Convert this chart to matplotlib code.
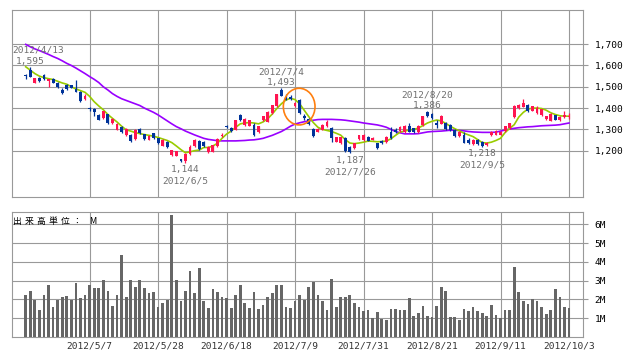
import matplotlib
matplotlib.use("Agg")
import matplotlib.pyplot as plt
from matplotlib.patches import Ellipse
import numpy as np

# ---------------- data ----------------
open_ = [1555, 1579, 1519, 1543, 1554, 1529, 1535, 1519, 1485, 1507,
         1508, 1490, 1475, 1443, 1400, 1398, 1368, 1354, 1372, 1330,
         1298, 1310, 1272, 1274, 1255, 1302, 1278, 1252, 1281, 1258,
         1224, 1241, 1178, 1176, 1160, 1150, 1185, 1220, 1247, 1242,
         1194, 1196, 1220, 1268, 1315, 1306, 1298, 1366, 1322, 1318,
         1320, 1286, 1342, 1337, 1376, 1408, 1485, 1452, 1452, 1408,
         1437, 1362, 1350, 1303, 1290, 1298, 1315, 1305, 1243, 1236,
         1258, 1217, 1212, 1254, 1250, 1264, 1251, 1234, 1245, 1240,
         1288, 1295, 1293, 1290, 1318, 1305, 1288, 1322, 1382, 1370,
         1330, 1327, 1332, 1322, 1298, 1268, 1275, 1250, 1233, 1250,
         1240, 1227, 1272, 1275, 1275, 1292, 1305, 1358, 1400, 1406,
         1415, 1388, 1375, 1368, 1347, 1341, 1366, 1343, 1360, 1357]
high = [1562, 1595, 1542, 1545, 1558, 1538, 1540, 1524, 1492, 1512,
        1510, 1530, 1478, 1468, 1404, 1402, 1370, 1386, 1374, 1352,
        1328, 1315, 1305, 1278, 1300, 1305, 1280, 1273, 1285, 1260,
        1255, 1244, 1205, 1200, 1163, 1190, 1227, 1256, 1250, 1245,
        1222, 1229, 1260, 1281, 1322, 1312, 1345, 1370, 1352, 1346,
        1330, 1318, 1365, 1386, 1416, 1468, 1493, 1465, 1460, 1430,
        1442, 1372, 1355, 1306, 1308, 1325, 1342, 1312, 1265, 1266,
        1262, 1220, 1238, 1275, 1280, 1268, 1262, 1238, 1248, 1268,
        1310, 1305, 1316, 1322, 1332, 1308, 1322, 1365, 1386, 1376,
        1342, 1368, 1336, 1326, 1302, 1292, 1288, 1258, 1256, 1253,
        1244, 1240, 1292, 1298, 1293, 1318, 1332, 1414, 1420, 1443,
        1420, 1412, 1408, 1398, 1365, 1378, 1369, 1362, 1384, 1375]
low = [1538, 1544, 1516, 1524, 1534, 1497, 1517, 1494, 1464, 1485,
       1492, 1474, 1428, 1438, 1388, 1365, 1342, 1350, 1326, 1325,
       1295, 1282, 1268, 1240, 1252, 1280, 1252, 1248, 1255, 1232,
       1220, 1212, 1176, 1173, 1146, 1144, 1182, 1216, 1205, 1217,
       1190, 1193, 1217, 1263, 1305, 1288, 1295, 1340, 1318, 1315,
       1270, 1283, 1340, 1334, 1372, 1405, 1455, 1436, 1436, 1405,
       1373, 1345, 1322, 1266, 1286, 1295, 1312, 1240, 1240, 1233,
       1195, 1187, 1208, 1250, 1245, 1244, 1248, 1208, 1233, 1236,
       1255, 1283, 1290, 1285, 1287, 1284, 1285, 1318, 1360, 1350,
       1305, 1323, 1299, 1292, 1264, 1265, 1235, 1230, 1229, 1228,
       1218, 1224, 1268, 1272, 1272, 1290, 1300, 1355, 1395, 1403,
       1380, 1385, 1372, 1365, 1345, 1338, 1344, 1340, 1355, 1350]
close = [1549, 1547, 1540, 1526, 1536, 1535, 1519, 1497, 1472, 1490,
         1495, 1477, 1435, 1457, 1395, 1380, 1345, 1384, 1330, 1350,
         1325, 1286, 1302, 1244, 1296, 1282, 1255, 1270, 1258, 1236,
         1252, 1215, 1203, 1197, 1150, 1185, 1219, 1252, 1208, 1220,
         1218, 1226, 1257, 1274, 1310, 1292, 1342, 1342, 1348, 1343,
         1276, 1315, 1362, 1382, 1413, 1465, 1458, 1440, 1445, 1424,
         1377, 1355, 1327, 1269, 1304, 1320, 1336, 1260, 1262, 1263,
         1200, 1192, 1235, 1272, 1276, 1247, 1258, 1213, 1236, 1265,
         1258, 1290, 1310, 1318, 1290, 1287, 1318, 1362, 1362, 1353,
         1322, 1364, 1302, 1296, 1267, 1288, 1238, 1235, 1252, 1233,
         1222, 1238, 1289, 1293, 1290, 1315, 1328, 1412, 1415, 1425,
         1386, 1408, 1400, 1394, 1362, 1374, 1346, 1358, 1366, 1364]
ma_short = [1594, 1578, 1562, 1550, 1543, 1538, 1534, 1526, 1518, 1512,
            1500, 1490, 1482, 1474, 1455, 1430, 1410, 1392, 1370, 1352,
            1335, 1315, 1298, 1292, 1285, 1280, 1276, 1272, 1268, 1262,
            1255, 1248, 1238, 1222, 1205, 1190, 1195, 1200, 1203, 1215,
            1215, 1222, 1235, 1258, 1278, 1292, 1310, 1326, 1330, 1332,
            1330, 1326, 1335, 1350, 1372, 1398, 1420, 1438, 1446, 1440,
            1420, 1390, 1360, 1332, 1310, 1300, 1295, 1290, 1282, 1273,
            1252, 1236, 1233, 1236, 1240, 1245, 1244, 1242, 1243, 1245,
            1256, 1272, 1287, 1292, 1297, 1300, 1306, 1318, 1330, 1338,
            1344, 1340, 1328, 1315, 1303, 1293, 1282, 1274, 1266, 1252,
            1238, 1236, 1240, 1248, 1258, 1285, 1305, 1322, 1358, 1380,
            1395, 1400, 1400, 1398, 1390, 1378, 1370, 1364, 1362, 1362]
ma_long = [1699, 1688, 1678, 1670, 1661, 1652, 1642, 1633, 1622, 1610,
           1600, 1588, 1575, 1562, 1548, 1535, 1520, 1500, 1485, 1468,
           1455, 1444, 1436, 1428, 1420, 1412, 1400, 1390, 1380, 1368,
           1354, 1340, 1326, 1313, 1303, 1292, 1283, 1274, 1266, 1258,
           1253, 1250, 1247, 1246, 1246, 1246, 1246, 1247, 1248, 1250,
           1251, 1254, 1258, 1265, 1272, 1281, 1290, 1302, 1315, 1325,
           1331, 1336, 1340, 1343, 1346, 1347, 1347, 1347, 1346, 1345,
           1343, 1340, 1337, 1334, 1330, 1327, 1324, 1321, 1316, 1310,
           1300, 1290, 1284, 1279, 1279, 1279, 1280, 1284, 1288, 1290,
           1291, 1292, 1294, 1296, 1296, 1295, 1293, 1290, 1288, 1287,
           1286, 1286, 1286, 1287, 1292, 1297, 1302, 1305, 1308, 1310,
           1312, 1313, 1315, 1317, 1318, 1319, 1320, 1322, 1326, 1330]
volume_m = [2.26, 2.47, 1.98, 1.44, 2.21, 2.74, 1.58, 1.98, 2.11, 2.16,
            1.96, 2.89, 2.05, 2.21, 2.79, 2.63, 2.63, 3.05, 2.47, 1.63,
            2.26, 4.37, 2.11, 3.05, 2.68, 3.05, 2.63, 2.32, 2.37, 1.58,
            1.79, 1.98, 6.47, 3.05, 1.91, 2.47, 3.53, 2.32, 3.68, 1.91,
            1.53, 2.58, 2.42, 2.11, 2.05, 1.53, 2.26, 2.74, 1.79, 1.53,
            2.42, 1.47, 1.68, 2.11, 2.32, 2.74, 2.74, 1.58, 1.53, 1.89,
            2.21, 1.95, 2.68, 2.95, 2.21, 1.89, 1.42, 3.10, 1.58, 2.11,
            2.11, 2.21, 1.79, 1.58, 1.37, 1.42, 1.00, 1.32, 0.95, 0.89,
            1.47, 1.47, 1.42, 1.42, 2.05, 1.10, 1.26, 1.63, 1.10, 1.05,
            1.63, 2.68, 2.47, 1.05, 1.05, 0.89, 1.47, 1.37, 1.58, 1.37,
            1.26, 1.10, 1.68, 1.16, 1.00, 1.42, 1.42, 3.74, 2.42, 1.89,
            1.74, 2.00, 1.89, 1.58, 1.21, 1.42, 2.53, 2.11, 1.58, 1.53]
date_ticks = ["2012/5/7", "2012/5/28", "2012/6/18", "2012/7/9",
              "2012/7/31", "2012/8/21", "2012/9/11", "2012/10/3"]
date_tick_index = [14, 29, 44, 59, 74, 89, 104, 119]
price_ticks = [1200, 1300, 1400, 1500, 1600, 1700]
volume_ticks = [1, 2, 3, 4, 5, 6]
extreme_index = [1, 35, 56, 71, 88, 100]
extreme_kind = ["high", "low", "high", "low", "high", "low"]
extreme_date = ["2012/4/13", "2012/6/5", "2012/7/4", "2012/7/26", "2012/8/20", "2012/9/5"]
extreme_value = [1595, 1144, 1493, 1187, 1386, 1218]
highlight_index, highlight_price = 59.9, 1407

# ---------------- styling ----------------
UP, DOWN = "#ff1450", "#003399"
GRID = "#999999"
MONO = "DejaVu Sans Mono"
FS = 6.8

W, H = 638, 362
fig = plt.figure(figsize=(W / 100, H / 100), dpi=100)


def px_axes(l, t, r, b):
    return fig.add_axes([l / W, 1 - b / H, (r - l) / W, (b - t) / H])


ax = px_axes(12, 10, 582.7, 197)
axv = px_axes(12, 212, 582.7, 337)

x = np.arange(len(close))
o = np.array(open_, float)
c = np.array(close, float)
colors = [UP if cc >= oo else DOWN for oo, cc in zip(o, c)]

for a in (ax, axv):
    a.set_xlim(-3, 122)
    a.set_xticks(date_tick_index)
    a.grid(True, color=GRID, linewidth=0.8)
    a.set_axisbelow(True)
    for s in a.spines.values():
        s.set_color(GRID)
        s.set_linewidth(0.8)
    a.yaxis.tick_right()
    a.tick_params(axis="y", direction="out", length=3.5, width=0.8,
                  color=GRID, pad=5, labelsize=FS, labelcolor="black")
    for lab in a.get_yticklabels():
        lab.set_family(MONO)

# price panel
ax.set_ylim(982.6, 1860.5)
ax.set_yticks(price_ticks)
ax.set_yticklabels([f"{v:,}" for v in price_ticks], family=MONO)
ax.tick_params(axis="x", length=0, labelbottom=False)

ax.plot(x, ma_long, color="#9900ff", lw=1.2, zorder=2)
ax.plot(x, ma_short, color="#99cc00", lw=1.2, zorder=2)
ax.vlines(x, low, high, colors=colors, lw=0.9, zorder=3)
body = np.maximum(np.abs(c - o), 3)
ax.bar(x, body, bottom=np.minimum(o, c), width=0.62, color=colors,
       linewidth=0, zorder=4)

for idx, kind, dstr, val in zip(extreme_index, extreme_kind,
                                extreme_date, extreme_value):
    if kind == "high":
        offs = (3.96, 11.9)
    else:
        offs = (-5.0, -13.2)
    ax.annotate(f"{val:,}", xy=(idx, val), xytext=(0, offs[0]),
                textcoords="offset points", ha="center", va="center",
                family=MONO, fontsize=FS, color="#707070")
    if idx < 4:
        ax.annotate(dstr, xy=(0.0, val), xycoords=("axes fraction", "data"),
                    xytext=(0.5, offs[1]), textcoords="offset points",
                    ha="left", va="center", family=MONO, fontsize=FS,
                    color="#707070")
    else:
        ax.annotate(dstr, xy=(idx, val), xytext=(0, offs[1]),
                    textcoords="offset points", ha="center", va="center",
                    family=MONO, fontsize=FS, color="#707070")

ax.add_patch(Ellipse((highlight_index, highlight_price), width=6.94,
                     height=172, fill=False, edgecolor="#ff7f0e",
                     lw=1.2, zorder=5))

# volume panel
axv.set_ylim(0, 6.65)
axv.set_yticks(volume_ticks)
axv.set_yticklabels([f"{v}M" for v in volume_ticks], family=MONO)
axv.bar(x, volume_m, width=0.6, color="#666666", linewidth=0, zorder=3)
axv.set_xticklabels(date_ticks, family=MONO, fontsize=FS, color="#333333")
axv.tick_params(axis="x", length=0, pad=3.5)

label = "出来高単位：M"
pitch = 11.9
for k, ch in enumerate(label):
    xpx = 13 + k * pitch if ch != "M" else 89
    fig.text(xpx / W, 1 - 221.5 / H, ch, ha="left", va="center",
             fontsize=6.4, color="black",
             family=["Noto Sans CJK JP", "DejaVu Sans"])

fig.savefig("out.png", dpi=100)
